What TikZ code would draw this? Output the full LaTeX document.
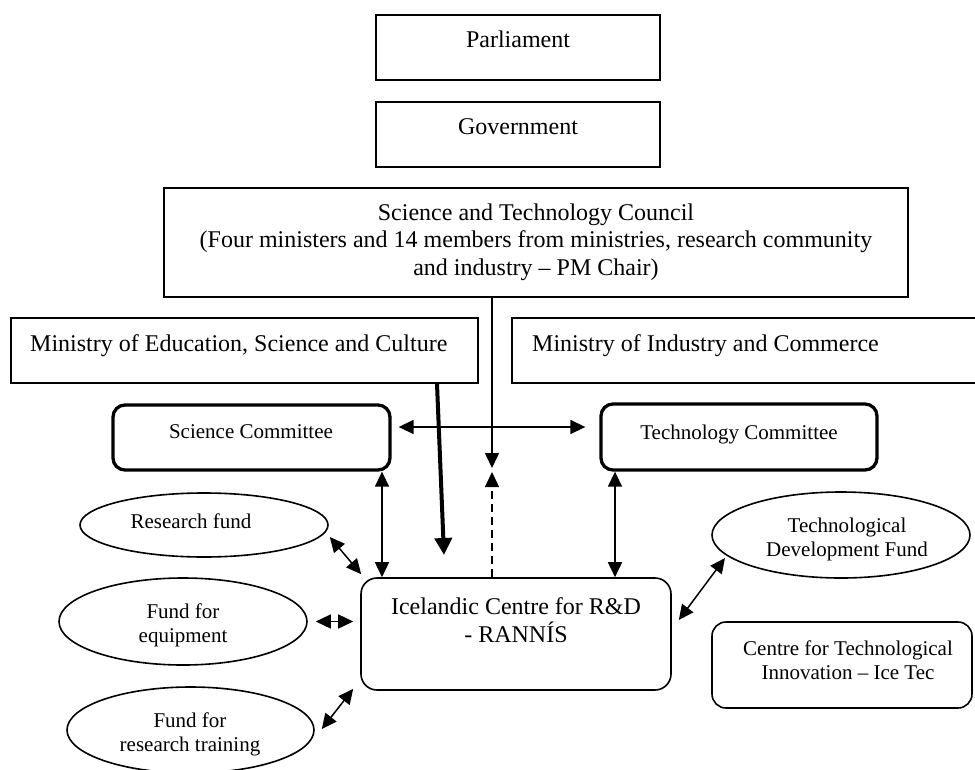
\documentclass[tikz,border=0pt]{standalone}
\usepackage{fontspec}
\setmainfont{Liberation Serif}
\usetikzlibrary{arrows.meta,calc,shapes.geometric}
\begin{document}
\begin{tikzpicture}[x=1pt,y=-1pt,
  box/.style={draw, line width=1.6pt, rectangle, inner sep=0pt},
  combox/.style={draw, line width=3.3pt, rectangle, rounded corners=12pt, inner sep=0pt},
  rbox/.style={draw, line width=1.6pt, rectangle, rounded corners=16pt, inner sep=0pt},
  fund/.style={draw, line width=1.6pt, ellipse, inner sep=0pt},
  big/.style={inner sep=0pt, font=\fontsize{24}{27.5}\selectfont},
  small/.style={inner sep=0pt, font=\fontsize{21}{24}\selectfont},
  tip/.tip={Triangle[length=15pt,width=14pt]},
  link/.style={line width=1.5pt, tip-tip},
  oneway/.style={line width=1.5pt, -tip},
  heavy/.style={line width=4pt, -{Triangle[length=17pt,width=17pt]}},
  dashline/.style={dash pattern=on 8pt off 5pt}
]
\useasboundingbox (0,0) rectangle (975,769);
\clip (0,0) rectangle (975,769);

% boxes
\node[box, minimum width=284pt, minimum height=65pt] (parl) at (518,47.5) {};
\node[box, minimum width=284pt, minimum height=65pt] (gov) at (518,134.5) {};
\node[box, minimum width=744pt, minimum height=109pt] (council) at (536,242.5) {};
\node[box, minimum width=467pt, minimum height=65pt] (edu) at (244.5,350.5) {};
\node[box, minimum width=470pt, minimum height=65pt] (ind) at (747,350.5) {};
\node[combox, minimum width=277pt, minimum height=65pt] (sci) at (251.5,437.5) {};
\node[combox, minimum width=276pt, minimum height=66pt] (tech) at (739,437) {};
\node[rbox, minimum width=310pt, minimum height=112pt] (rannis) at (516,634) {};
\node[fund, minimum width=248pt, minimum height=64pt] (rf) at (204,525) {};
\node[fund, minimum width=248pt, minimum height=87pt] (fe) at (183,621.5) {};
\node[fund, minimum width=247pt, minimum height=86pt] (frt) at (190.5,730) {};
\node[fund, minimum width=258pt, minimum height=86pt] (tdf) at (841,535) {};
\node[rbox, rounded corners=14pt, minimum width=260pt, minimum height=86pt] (cti) at (842,665) {};

% texts (base anchor of multi-line text = last line baseline)
\node[big, anchor=base] (tParl) at (518,47) {Parliament};
\node[big, anchor=base] (tGov) at (518,134) {Government};
\node[big, anchor=base, align=center] (tCouncil) at (536,275) {Science and Technology Council\\(Four ministers and 14 members from ministries, research community\\and industry – PM Chair)};
\node[big, anchor=base west] (tEdu) at (30,351) {Ministry of Education, Science and Culture};
\node[big, anchor=base west] (tInd) at (532,351) {Ministry of Industry and Commerce};
\node[small, anchor=base] (tSci) at (251,438) {Science Committee};
\node[small, anchor=base] (tTech) at (739,439) {Technology Committee};
\node[big, anchor=base, align=center] (tRannis) at (516,642) {Icelandic Centre for R\&D\\- RANNÍS};
\node[small, anchor=base] (tRf) at (191,528) {Research fund};
\node[small, anchor=base, align=center] (tFe) at (183,642) {Fund for\\equipment};
\node[small, anchor=base, align=center] (tFrt) at (190,751) {Fund for\\research training};
\node[small, anchor=base, align=center] (tTdf) at (847,556) {Technological\\Development Fund};
\node[small, anchor=base, align=center] (tCti) at (848,679) {Centre for Technological\\Innovation – Ice Tec};

% connectors
\coordinate (cTip) at (492,468);
\coordinate (rTip) at (492,472);
\coordinate (thickEnd) at (444,555);
\draw[oneway] (council.south -| cTip) -- (cTip);
\draw[oneway, dashline] (rannis.north -| rTip) -- (rTip);
\draw[link, shorten <=7pt, shorten >=14pt] (sci.east |- 0,427) -- (tech.west |- 0,427);
\draw[heavy] (edu.south -| 437,0) -- (thickEnd);
\draw[link] (sci.south -| 382,0) -- (rannis.north -| 382,0);
\draw[link] (tech.south -| 615,0) -- (rannis.north -| 615,0);
\draw[link] ($(rf.east)+(1,12)$) -- ($(rannis.north west)+(1,-3)$);
\draw[link] ($(fe.east)+(8,0)$) -- ($(rannis.west |- fe.east)+(-7,0)$);
\draw[link] ($(frt.east)+(7,-1)$) -- ($(rannis.south west)+(-7,-2)$);
\draw[link] ($(tdf.center)+(-116,23)$) -- ($(rannis.east)+(7,-14)$);
\end{tikzpicture}
\end{document}
